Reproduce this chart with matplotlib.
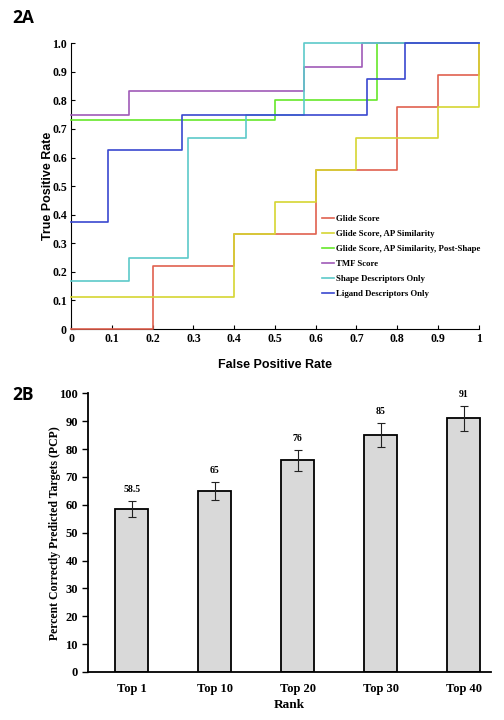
import numpy as np
import matplotlib
matplotlib.use('Agg')
import matplotlib.pyplot as plt

curve_names = ['Glide Score', 'Glide Score, AP Similarity', 'Glide Score, AP Similarity, Post-Shape',
               'TMF Score', 'Shape Descriptors Only', 'Ligand Descriptors Only']
curve_colors = ['#e0614f', '#d6d632', '#66e82a', '#a05ab8', '#5ccaca', '#3a48cf']

glide_fpr = [0, 0.2, 0.4, 0.6, 0.8, 0.9, 1.0]
glide_tpr = [0, 0.222, 0.333, 0.556, 0.778, 0.889, 1.0]
ap_fpr = [0, 0.4, 0.5, 0.6, 0.7, 0.9, 1.0]
ap_tpr = [0.111, 0.333, 0.444, 0.556, 0.667, 0.778, 1.0]
shape_post_fpr = [0, 0.5, 0.75, 1.0]
shape_post_tpr = [0.733, 0.8, 1.0, 1.0]
tmf_fpr = [0, 0.143, 0.571, 0.714, 1.0]
tmf_tpr = [0.75, 0.833, 0.917, 1.0, 1.0]
shape_fpr = [0, 0.143, 0.286, 0.429, 0.571, 1.0]
shape_tpr = [0.167, 0.25, 0.667, 0.75, 1.0, 1.0]
ligand_fpr = [0, 0.091, 0.273, 0.727, 0.818, 1.0]
ligand_tpr = [0.375, 0.625, 0.75, 0.875, 1.0, 1.0]

curves = [(glide_fpr, glide_tpr), (ap_fpr, ap_tpr), (shape_post_fpr, shape_post_tpr),
          (tmf_fpr, tmf_tpr), (shape_fpr, shape_tpr), (ligand_fpr, ligand_tpr)]

# bar chart for panel 2B
ranks = ['Top 1', 'Top 10', 'Top 20', 'Top 30', 'Top 40']
pcp = [58.5, 65, 76, 85, 91]
pcp_err = [3.0, 3.3, 3.8, 4.3, 4.5]
pcp_labels = ['58.5', '65', '76', '85', '91']

serif = 'Liberation Serif'
sans = 'Liberation Sans'

fig = plt.figure(figsize=(5.04, 7.2), dpi=100)

#---- panel A
ax1 = fig.add_axes([0.141, 0.543, 0.809, 0.397])
for (fx, ty), name, col in zip(curves, curve_names, curve_colors):
    ax1.step(fx, ty, where='post', color=col, lw=1.2, label=name, clip_on=False, zorder=3)

ax1.set_xlim(0, 1)
ax1.set_ylim(0, 1.0)
ax1.spines['top'].set_visible(False)
ax1.spines['right'].set_visible(False)
ax1.set_xticks(np.arange(0, 1.01, 0.1))
ax1.set_xticklabels(['0', '0.1', '0.2', '0.3', '0.4', '0.5', '0.6', '0.7', '0.8', '0.9', '1'])
ax1.set_yticks(np.arange(0, 1.01, 0.1))
ax1.set_yticklabels(['0', '0.1', '0.2', '0.3', '0.4', '0.5', '0.6', '0.7', '0.8', '0.9', '1.0'])
ax1.tick_params(direction='in', length=3, width=0.8, pad=3)
for lab in ax1.get_xticklabels() + ax1.get_yticklabels():
    lab.set_fontfamily(serif)
    lab.set_fontweight('bold')
    lab.set_fontsize(8.5)
ax1.set_xlabel('False Positive Rate', fontfamily=sans, fontweight='bold', fontsize=9, labelpad=10)
ax1.set_ylabel('True Positive Rate', fontfamily=sans, fontweight='bold', fontsize=9, labelpad=-1)

leg = ax1.legend(loc='upper left', bbox_to_anchor=(0.605, 0.413), frameon=False,
                 prop={'family': serif, 'size': 6.3, 'weight': 'bold'},
                 handlelength=1.4, handletextpad=0.2, labelspacing=0.78, borderpad=0)

fig.text(0.024, 0.975, '2A', fontsize=12.5, fontweight='bold', fontfamily='Open Sans', va='center')

#---- panel B
ax2 = fig.add_axes([0.174, 0.0667, 0.8, 0.387])
xpos = np.arange(len(ranks))
ax2.bar(xpos, pcp, width=0.4, color='#d9d9d9', edgecolor='black', linewidth=1.3, zorder=2)
ax2.errorbar(xpos, pcp, yerr=pcp_err, fmt='none', ecolor='#222222', elinewidth=0.8,
             capsize=3, capthick=0.8, zorder=3)
for x, v, e, t in zip(xpos, pcp, pcp_err, pcp_labels):
    ax2.text(x, v + e + 2.5, t, ha='center', va='bottom', fontfamily=serif,
             fontweight='bold', fontsize=7)

ax2.set_xlim(-0.533, 4.33)
ax2.set_ylim(0, 100)
ax2.set_yticks(range(0, 101, 10))
ax2.set_xticks(xpos)
ax2.set_xticklabels(ranks)
ax2.spines['top'].set_visible(False)
ax2.spines['right'].set_visible(False)
ax2.spines['left'].set_linewidth(1.3)
ax2.spines['bottom'].set_linewidth(1.3)
ax2.tick_params(axis='y', direction='out', length=4, width=1.0, pad=3)
ax2.tick_params(axis='x', length=0, pad=8)
for lab in ax2.get_xticklabels() + ax2.get_yticklabels():
    lab.set_fontfamily(serif)
    lab.set_fontweight('bold')
    lab.set_fontsize(9)
ax2.set_xlabel('Rank', fontfamily=serif, fontweight='bold', fontsize=9.5, labelpad=3)
ax2.set_ylabel('Percent Correctly Predicted Targets (PCP)', fontfamily=serif,
               fontweight='bold', fontsize=8.5, labelpad=-1)

fig.text(0.024, 0.452, '2B', fontsize=12.5, fontweight='bold', fontfamily='Open Sans', va='center')

fig.savefig('out.png', dpi=100)
